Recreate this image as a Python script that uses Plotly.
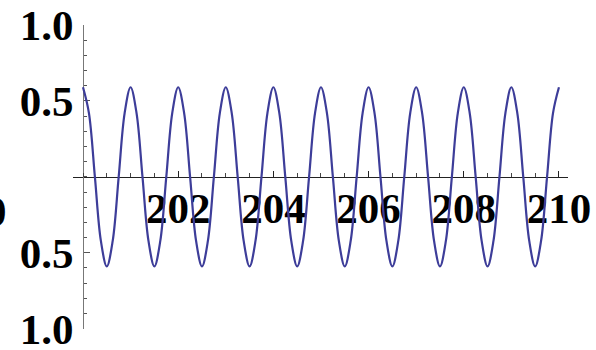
import plotly.graph_objects as go

x_vals = [
    200.000, 200.125, 200.250, 200.375, 200.500, 200.625, 200.750, 200.875,
    201.000, 201.125, 201.250, 201.375, 201.500, 201.625, 201.750, 201.875,
    202.000, 202.125, 202.250, 202.375, 202.500, 202.625, 202.750, 202.875,
    203.000, 203.125, 203.250, 203.375, 203.500, 203.625, 203.750, 203.875,
    204.000, 204.125, 204.250, 204.375, 204.500, 204.625, 204.750, 204.875,
    205.000, 205.125, 205.250, 205.375, 205.500, 205.625, 205.750, 205.875,
    206.000, 206.125, 206.250, 206.375, 206.500, 206.625, 206.750, 206.875,
    207.000, 207.125, 207.250, 207.375, 207.500, 207.625, 207.750, 207.875,
    208.000, 208.125, 208.250, 208.375, 208.500, 208.625, 208.750, 208.875,
    209.000, 209.125, 209.250, 209.375, 209.500, 209.625, 209.750, 209.875,
    210.000,
]
y_vals = [
    0.59, 0.42, 0.0, -0.42, -0.59, -0.42, 0.0, 0.42,
    0.59, 0.42, 0.0, -0.42, -0.59, -0.42, 0.0, 0.42,
    0.59, 0.42, 0.0, -0.42, -0.59, -0.42, 0.0, 0.42,
    0.59, 0.42, 0.0, -0.42, -0.59, -0.42, 0.0, 0.42,
    0.59, 0.42, 0.0, -0.42, -0.59, -0.42, 0.0, 0.42,
    0.59, 0.42, 0.0, -0.42, -0.59, -0.42, 0.0, 0.42,
    0.59, 0.42, 0.0, -0.42, -0.59, -0.42, 0.0, 0.42,
    0.59, 0.42, 0.0, -0.42, -0.59, -0.42, 0.0, 0.42,
    0.59, 0.42, 0.0, -0.42, -0.59, -0.42, 0.0, 0.42,
    0.59, 0.42, 0.0, -0.42, -0.59, -0.42, 0.0, 0.42,
    0.59,
]

x_tick_vals = [202, 204, 206, 208, 210]
x_tick_text = ["202", "204", "206", "208", "210"]
y_tick_vals = [-1.0, -0.5, 0.5, 1.0]
y_tick_text = ["1.0", "0.5", "0.5", "1.0"]

X_RANGE = [199.79, 210.19]
Y_RANGE = [-1.002, 1.0]

label_font = dict(family="Liberation Serif, Times New Roman, serif", size=43, color="black")

fig = go.Figure()
fig.add_trace(go.Scatter(
    x=x_vals, y=y_vals, mode="lines",
    line=dict(color="#3d3d99", width=2.2, shape="spline", smoothing=1.0),
    hoverinfo="skip", showlegend=False,
))

fig.update_layout(
    width=596, height=350,
    margin=dict(l=73, r=28, t=25, b=21, autoexpand=False),
    paper_bgcolor="white", plot_bgcolor="white",
    showlegend=False,
    xaxis=dict(
        range=X_RANGE, anchor="free", position=-Y_RANGE[0] / (Y_RANGE[1] - Y_RANGE[0]),
        automargin=False,
        showgrid=False, zeroline=False,
        showline=True, linecolor="#222222", linewidth=1,
        ticks="inside", ticklen=6, tickwidth=1, tickcolor="#222222",
        tickmode="array", tickvals=x_tick_vals,
        ticktext=["<b>" + t + "</b>" for t in x_tick_text],
        tickfont=label_font, ticklabelstandoff=-6, ticklabeloverflow="allow",
        minor=dict(ticks="inside", ticklen=3.5, tickwidth=1, tickcolor="#444444",
                   tick0=200, dtick=0.5, showgrid=False),
        layer="below traces",
    ),
    yaxis=dict(
        range=Y_RANGE, anchor="free", automargin=False,
        position=(200 - X_RANGE[0]) / (X_RANGE[1] - X_RANGE[0]),
        showgrid=False, zeroline=False,
        showline=True, linecolor="#777777", linewidth=1,
        ticks="inside", ticklen=6, tickwidth=1, tickcolor="#555555",
        tickmode="array", tickvals=y_tick_vals,
        ticktext=["<b>" + t + "</b>" for t in y_tick_text],
        tickfont=label_font, ticklabelstandoff=1, ticklabeloverflow="allow",
        minor=dict(ticks="inside", ticklen=3.5, tickwidth=1, tickcolor="#555555",
                   tick0=0, dtick=0.1, showgrid=False),
        layer="below traces",
    ),
)

# Partially visible left label (cropped in the original)
fig.add_annotation(
    text="<b>200</b>", xref="paper", yref="y",
    x=(9 - 73) / 495, y=-0.23, xanchor="right", yanchor="middle",
    showarrow=False, font=label_font,
)

fig.write_html(
    "out.html",
    config={"displayModeBar": False},
    post_script="document.body.style.margin='0';document.body.style.overflow='hidden';",
)
